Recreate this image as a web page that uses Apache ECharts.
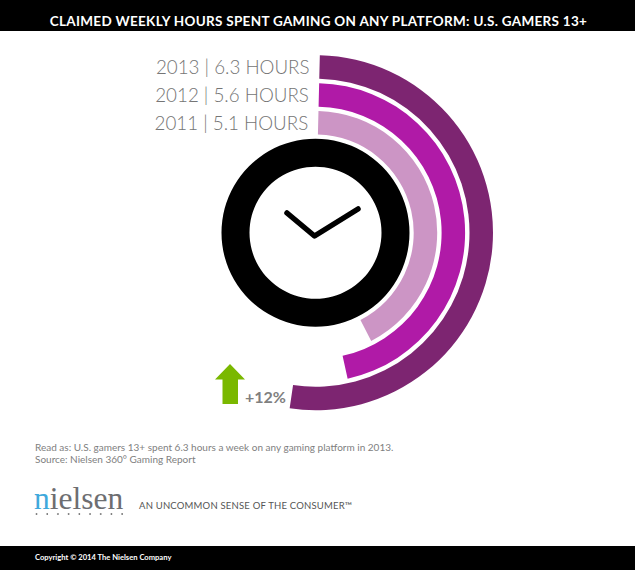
<!DOCTYPE html>
<html><head><meta charset="utf-8">
<style>html,body{margin:0;padding:0;background:#fff}#main{width:635px;height:570px}</style>
<script src="https://cdn.jsdelivr.net/npm/echarts@6/dist/echarts.min.js"></script>
</head><body><div id="main"></div>
<script>
const years = ['2011', '2012', '2013'];
const hours = [5.1, 5.6, 6.3];
const colors = ['#cc95c5', '#b01aa7', '#7d2571'];
const titleText = 'CLAIMED WEEKLY HOURS SPENT GAMING ON ANY PLATFORM: U.S. GAMERS 13+';
const changeText = '+12%';
const noteLines = ['Read as: U.S. gamers 13+ spent 6.3 hours a week on any gaming platform in 2013.', 'Source: Nielsen 360° Gaming Report'];
const tagline = 'AN UNCOMMON SENSE OF THE CONSUMER™';
const copyright = 'Copyright © 2014 The Nielsen Company';
const dotCount = [0,1,2,3,4,5,6,7,8];
const center = [315.5, 232.7];

const spacing = new Map([[titleText, '0.3px'], [tagline, '0.2px']]);
const chart = echarts.init(document.getElementById('main'), null, {renderer: 'svg'});
chart.setOption({
  animation: false,
  backgroundColor: '#fff',
  title: {
    text: titleText, left: 313.5, top: 9, textAlign: 'center', z: 10,
    textStyle: {color: '#fff', fontFamily: 'Lato', fontWeight: 'bold', fontSize: 13.5}
  },
  polar: {center: center, radius: [96, 179.7]},
  angleAxis: {type: 'value', min: 0, max: 12.13, startAngle: 88.6, clockwise: true,
    axisLine: {show: false}, axisTick: {show: false}, axisLabel: {show: false}, splitLine: {show: false}},
  radiusAxis: {type: 'category', data: years,
    axisLine: {show: false}, axisTick: {show: false}, splitLine: {show: false},
    axisLabel: {show: true, interval: 0, hideOverlap: false, margin: 10, fontFamily: 'Lato', fontWeight: 300, fontSize: 18.8, color: '#757575',
      formatter: (y, i) => y + ' | ' + hours[i].toFixed(1) + ' HOURS'}},
  series: [
    {type: 'bar', coordinateSystem: 'polar', barWidth: 23.5, silent: true,
     data: hours.map((v, i) => ({value: v, itemStyle: {color: colors[i]}}))},
    {type: 'pie', center: center, radius: [66, 94], silent: true, label: {show: false}, labelLine: {show: false},
     itemStyle: {color: '#000'}, data: [{value: 1, name: 'clock'}]}
  ],
  graphic: [
    {type: 'rect', shape: {x: 0, y: 0, width: 635, height: 31}, style: {fill: '#000'}},
    {type: 'rect', shape: {x: 0, y: 546, width: 635, height: 24}, style: {fill: '#000'}},
    {type: 'polyline', shape: {points: [[287, 213], [314.5, 236], [358, 209]]},
     style: {stroke: '#000', fill: null, lineWidth: 5.5, lineCap: 'round', lineJoin: 'round'}},
    {type: 'polygon', shape: {points: [[230, 364], [245, 379.5], [238, 379.5], [238, 404], [222.5, 404], [222.5, 379.5], [215, 379.5]]},
     style: {fill: '#7ab800'}},
    {type: 'text', x: 245, y: 388, style: {text: changeText, fill: '#808080', font: 'bold 16px Lato'}},
    {type: 'text', x: 35, y: 442, style: {text: noteLines[0], fill: '#808080', font: '10px Lato'}},
    {type: 'text', x: 35, y: 454, style: {text: noteLines[1], fill: '#808080', font: '10px Lato'}},
    {type: 'text', x: 34, y: 482, style: {text: '{a|n}{b|ielsen}', rich: {
      a: {fill: '#3fa9dc', font: '31.5px "Liberation Serif"'}, b: {fill: '#6d6e71', font: '31.5px "Liberation Serif"'}}}},
    ...dotCount.map(i => ({type: 'circle', shape: {cx: 36.5 + i * 10.7, cy: 514, r: 0.9}, style: {fill: '#777'}})),
    {type: 'text', x: 139, y: 500, style: {text: tagline, fill: '#555', font: '9.5px Lato'}},
    {type: 'text', x: 35, y: 553, style: {text: copyright, fill: '#fff', font: 'bold 7.6px Lato'}}
  ]
});
document.querySelectorAll('#main text').forEach(t => {
  const s = spacing.get(t.textContent);
  if (s) t.style.letterSpacing = s;
});
</script></body></html>
